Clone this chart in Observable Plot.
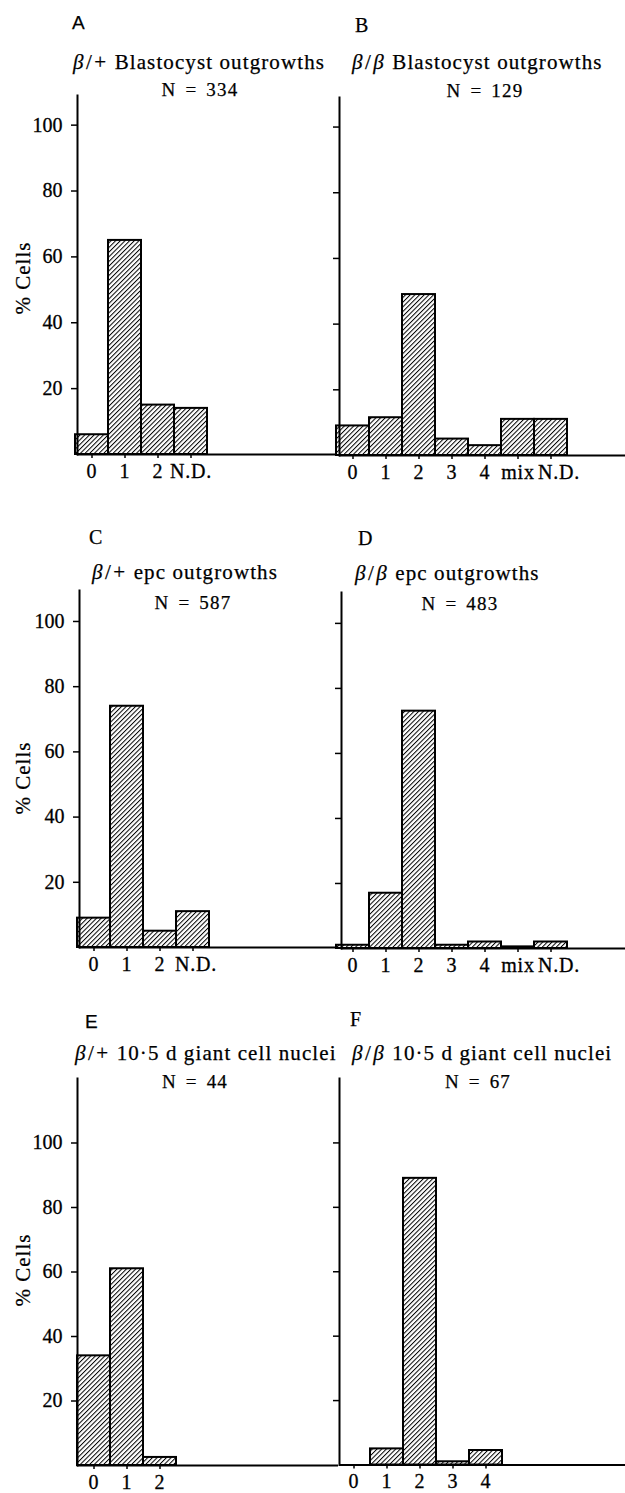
<!DOCTYPE html>
<html>
<head>
<meta charset="utf-8">
<script src="https://cdn.jsdelivr.net/npm/d3@7"></script>
<script src="https://cdn.jsdelivr.net/npm/@observablehq/plot@0.6"></script>
<style>
  html, body { margin: 0; padding: 0; background: #fff; }
  #root { position: relative; width: 625px; height: 1493px; overflow: hidden; background: #fff; font-family: "Liberation Serif", "DejaVu Serif", serif; color: #000; }
  .abs { position: absolute; white-space: nowrap; line-height: 1; -webkit-text-stroke: 0.25px #000; }
  .letter { font-size: 20px; }
  .sans { font-family: "Liberation Sans", Arial, sans-serif; font-size: 19px; }
  .title { font-size: 21px; letter-spacing: 1.1px; }
  .title .pre { margin-right: 6px; letter-spacing: 2.5px; }
  .nlab { font-size: 19px; letter-spacing: 1.2px; word-spacing: 3px; transform: translateX(-50%); }
  .ylab { font-size: 21px; letter-spacing: 1px; transform: translate(-50%, -50%) rotate(-90deg); }
</style>
</head>
<body>
<div id="root"></div>
<script>
// ---- data ----
const catsA = ["0", "1", "2", "N.D."];
const valsA = [6, 65, 15, 14];
const catsB = ["0", "1", "2", "3", "4", "mix", "N.D."];
const valsB = [9, 11.5, 49, 5, 3, 11, 11];
const catsC = ["0", "1", "2", "N.D."];
const valsC = [9, 74, 5, 11];
const catsD = ["0", "1", "2", "3", "4", "mix", "N.D."];
const valsD = [1, 17, 73, 1, 2, 0.5, 2];
const catsE = ["0", "1", "2"];
const valsE = [34, 61, 2.5];
const catsF = ["0", "1", "2", "3", "4"];
const valsF = [0, 5, 89, 1, 4.5];
const yTicks = [20, 40, 60, 80, 100];

const letters = ["A", "B", "C", "D", "E", "F"];
const titlePre = ["β/+", "β/β", "β/+", "β/β", "β/+", "β/β"];
const titleRest = ["Blastocyst outgrowths", "Blastocyst outgrowths", "epc outgrowths", "epc outgrowths", "10·5 d giant cell nuclei", "10·5 d giant cell nuclei"];
const nLabels = ["N = 334", "N = 129", "N = 587", "N = 483", "N = 44", "N = 67"];
const yLabel = "% Cells";

const root = document.getElementById("root");

// hatch pattern defs
const defs = d3.select(root).append("svg")
  .attr("width", 0).attr("height", 0)
  .style("position", "absolute").style("left", 0).style("top", 0);
const pat = defs.append("defs").append("pattern")
  .attr("id", "hatch").attr("patternUnits", "userSpaceOnUse")
  .attr("width", 3.3).attr("height", 3.3)
  .attr("patternTransform", "rotate(45)");
pat.append("rect").attr("width", 3.3).attr("height", 3.3).attr("fill", "#fff");
pat.append("line").attr("x1", 0.5).attr("y1", 0).attr("x2", 0.5).attr("y2", 3.3)
  .attr("stroke", "#000").attr("stroke-width", 1);

// layout (pixel geometry only)
const panels = [
  {cats: catsA, vals: valsA, svgLeft: 0,   svgWidth: 337, axisX: 77,  barStart: 75,  topY: 95,  baseY: 454,   ymax: 109,   showY: true,  ndShift: 0},
  {cats: catsB, vals: valsB, svgLeft: 300, svgWidth: 325, axisX: 339, barStart: 336, topY: 97,  baseY: 455,   ymax: 109,   showY: false, ndShift: 8},
  {cats: catsC, vals: valsC, svgLeft: 0,   svgWidth: 340, axisX: 79,  barStart: 77,  topY: 590, baseY: 947,   ymax: 109.5, showY: true,  ndShift: 3},
  {cats: catsD, vals: valsD, svgLeft: 300, svgWidth: 325, axisX: 341, barStart: 336, topY: 592, baseY: 948,   ymax: 109.5, showY: false, ndShift: 8},
  {cats: catsE, vals: valsE, svgLeft: 0,   svgWidth: 338, axisX: 77,  barStart: 77,  topY: 1078, baseY: 1465, ymax: 120,   showY: true,  ndShift: 0},
  {cats: catsF, vals: valsF, svgLeft: 300, svgWidth: 325, axisX: 339, barStart: 337, topY: 1078, baseY: 1464.5, ymax: 120,  showY: false, ndShift: 0}
];

const band = 33;
panels.forEach(p => {
  const mt = 10, mb = 40;
  const h = p.baseY - p.topY + mt + mb;
  const ml = p.axisX - p.svgLeft;
  const x0 = p.barStart - p.svgLeft;
  const data = p.cats.map((c, i) => ({cat: c, v: p.vals[i]}));
  const hasND = p.cats.includes("N.D.");
  const marks = [
    Plot.barY(data, {x: "cat", y: "v", fill: "url(#hatch)", stroke: "#000", strokeWidth: 2, inset: 0}),
    Plot.ruleY([0], {stroke: "#000", strokeWidth: 2}),
    Plot.frame({anchor: "left", stroke: "#000", strokeWidth: 2}),
    Plot.axisY({ticks: yTicks, tickSize: 6, tickPadding: 9, strokeWidth: 1.5, tickFormat: p.showY ? (d => String(d)) : (() => ""), label: null}),
    Plot.axisX({tickSize: 4, tickPadding: 5, strokeWidth: 1.5, label: null, tickFormat: d => (d === "N.D." ? "" : d)})
  ];
  if (hasND) {
    marks.push(Plot.axisX({ticks: ["N.D."], tickSize: 0, tickPadding: 9, dx: p.ndShift, label: null}));
  }
  const svg = Plot.plot({
    width: p.svgWidth,
    height: h,
    marginLeft: ml, marginRight: 0, marginTop: mt, marginBottom: mb,
    style: {fontFamily: "Liberation Serif, serif", fontSize: "20px", color: "#000", background: "transparent", overflow: "visible"},
    x: {type: "band", domain: p.cats, range: [x0, x0 + p.cats.length * band], padding: 0},
    y: {domain: [0, p.ymax]},
    marks
  });
  const sel = d3.select(svg);
  sel.selectAll("g[aria-label$='tick label'], g[aria-label$='tick label'] text")
    .attr("font-size", null).attr("font-family", null)
    .style("font-size", "20px").style("font-family", "'Liberation Serif', serif");
  sel.selectAll("g[aria-label$='tick label'] text")
    .style("stroke", "#000").style("stroke-width", "0.3px");
  sel.selectAll("g[aria-label='x-axis tick label'] text").style("letter-spacing", "0.8px");
  svg.style.position = "absolute";
  svg.style.left = p.svgLeft + "px";
  svg.style.top = (p.topY - mt) + "px";
  svg.style.maxWidth = "none";
  root.appendChild(svg);
});

// text placements (cap centre y, left x or centre x)
const letterPos = [[72, 23, true], [355, 25, false], [89, 537, false], [358, 538, false], [85, 1022, true], [350, 1019, false]];
const titlePos = [[73, 62], [352, 62], [92, 572], [355, 573], [75, 1053], [352, 1053]];
const nPos = [[200, 89], [485, 90], [193, 602], [460, 603], [195, 1081], [478, 1081]];
const yLabPos = [[23, 278], [23, 778], [23, 1270]];

function addDiv(cls, html, left, top) {
  const d = document.createElement("div");
  d.className = "abs " + cls;
  d.innerHTML = html;
  d.style.left = left + "px";
  d.style.top = top + "px";
  root.appendChild(d);
  return d;
}
letters.forEach((L, i) => {
  const [x, y, sans] = letterPos[i];
  addDiv(sans ? "sans" : "letter", L, x, y - 10);
});
titlePre.forEach((pre, i) => {
  const [x, y] = titlePos[i];
  const preHtml = pre.replace(/β/g, "<i>β</i>");
  addDiv("title", `<span class="pre">${preHtml}</span>${titleRest[i]}`, x, y - 10.5);
});
nLabels.forEach((n, i) => {
  const [x, y] = nPos[i];
  addDiv("nlab", n, x, y - 9.5);
});
yLabPos.forEach(([x, y]) => {
  addDiv("ylab", yLabel, x, y);
});
</script>
</body>
</html>
